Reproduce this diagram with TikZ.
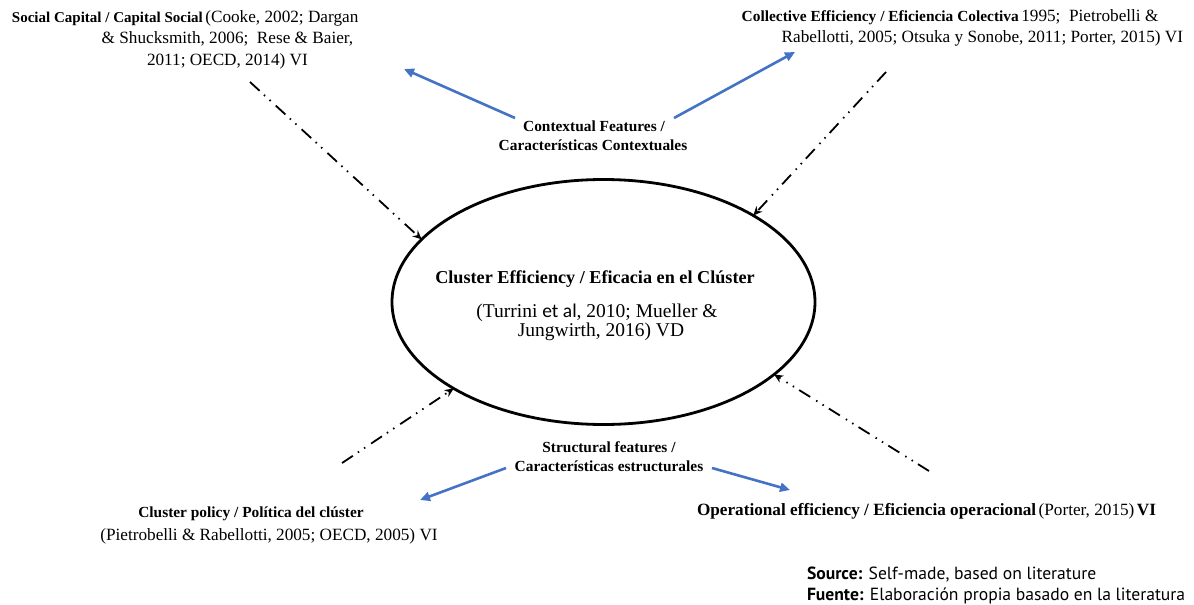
\documentclass[tikz,border=0pt]{standalone}
\usepackage{fontspec}
\setmainfont{Liberation Serif}
\newfontfamily\srcfont{PT Sans}
\newfontfamily\calfont{Carlito}
\usetikzlibrary{arrows.meta,shapes.geometric}
\definecolor{blueA}{HTML}{4472C4}
\newcommand\labB{\fontsize{15.4}{18}\selectfont\bfseries}
\newcommand\labR{\fontsize{17.2}{20}\selectfont\mdseries}
\newcommand\labS{\fontsize{17.6}{20}\selectfont\srcfont}
\tikzset{
 lbl/.style={inner sep=0pt, outer sep=0pt, anchor=base west},
 lblc/.style={inner sep=0pt, outer sep=0pt, anchor=base},
 blu/.style={draw=blueA, line width=2.6pt, -{Triangle[length=10pt,width=9pt]}},
 ddot/.style={line width=1.8pt, dash pattern=on 13pt off 6pt on 1.5pt off 6pt on 1.5pt off 7pt, -{Stealth[length=9pt,width=8pt]}},
 ellnode/.style={draw, line width=2.8pt, ellipse, inner sep=0pt, outer sep=0pt},
}
\begin{document}
\begin{tikzpicture}[x=1pt,y=-1pt]
\useasboundingbox (0,0) rectangle (1194,605);
% central ellipse
\node[ellnode, minimum width=423pt, minimum height=245pt] (ce) at (603.5,302) {};
\node[lblc] (ce1) at (595,283) {\fontsize{18.2}{20}\selectfont\bfseries Cluster Efficiency / Eficacia en el Clúster};
\node[lblc] (ce2) at (597,317) {\fontsize{19.5}{22}\selectfont (Turrini {\calfont et al}, 2010; Mueller \&};
\node[lblc] (ce3) at (601,336) {\fontsize{19.5}{22}\selectfont Jungwirth, 2016) VD};
% social capital
\node[lbl] (sc1) at (12,22) {{\fontsize{15}{18}\selectfont\bfseries Social Capital / Capital Social} {\labR (Cooke, 2002; Dargan}};
\node[lbl] (sc2) at (101.7,43) {\labR \& Shucksmith, 2006;\ \ Rese \& Baier,};
\node[lbl] (sc3) at (147,65) {\labR 2011; OECD, 2014) VI};
% collective efficiency
\node[lbl] (cl1) at (741.7,21) {{\labB Collective Efficiency / Eficiencia Colectiva} {\labR 1995;\ \ Pietrobelli \&}};
\node[lbl] (cl2) at (781.7,42) {\labR Rabellotti, 2005; Otsuka y Sonobe, 2011; Porter, 2015) VI};
% contextual
\node[lblc] (cf1) at (594,131) {\labB Contextual Features /};
\node[lblc] (cf2) at (593,150) {\labB Características Contextuales};
% structural
\node[lblc] (sf1) at (609,452) {\labB Structural features /};
\node[lblc] (sf2) at (609,471) {\labB Características estructurales};
% cluster policy
\node[lblc] (cp1) at (251,517) {\labB Cluster policy / Política del clúster};
\node[lblc] (cp2) at (269,540) {\labR (Pietrobelli \& Rabellotti, 2005; OECD, 2005) VI};
% operational
\node[lbl] (op) at (697,515) {{\fontsize{17.2}{20}\selectfont\bfseries Operational efficiency / Eficiencia operacional} {\labR (Porter, 2015)} {\fontsize{17.2}{20}\selectfont\bfseries VI}};
% source
\node[lbl] (s1) at (807,579) {\labS\textbf{Source:} Self-made, based on literature};
\node[lbl] (s2) at (807,600) {\labS\textbf{Fuente:} Elaboración propia basado en la literatura};
% blue arrows
\coordinate (b1s) at (515,118); \coordinate (b1e) at (404,69);
\coordinate (b2s) at (674,118); \coordinate (b2e) at (795,52);
\coordinate (b3s) at (506,468); \coordinate (b3e) at (420,500);
\coordinate (b4s) at (712,468); \coordinate (b4e) at (790,490);
\draw[blu] (b1s) -- (b1e);
\draw[blu] (b2s) -- (b2e);
\draw[blu] (b3s) -- (b3e);
\draw[blu] (b4s) -- (b4e);
% dash-dot-dot arrows
\coordinate (d1) at (250,82);
\coordinate (d2) at (886,72);
\coordinate (d3) at (342,463);
\coordinate (d4) at (929,471);
\draw[ddot] (d1) -- (ce.161);
\draw[ddot] (d2) -- (ce.30.4);
\draw[ddot] (d3) -- (ce.210.2);
\draw[ddot] (d4) -- (ce.337.6);
\end{tikzpicture}
\end{document}
